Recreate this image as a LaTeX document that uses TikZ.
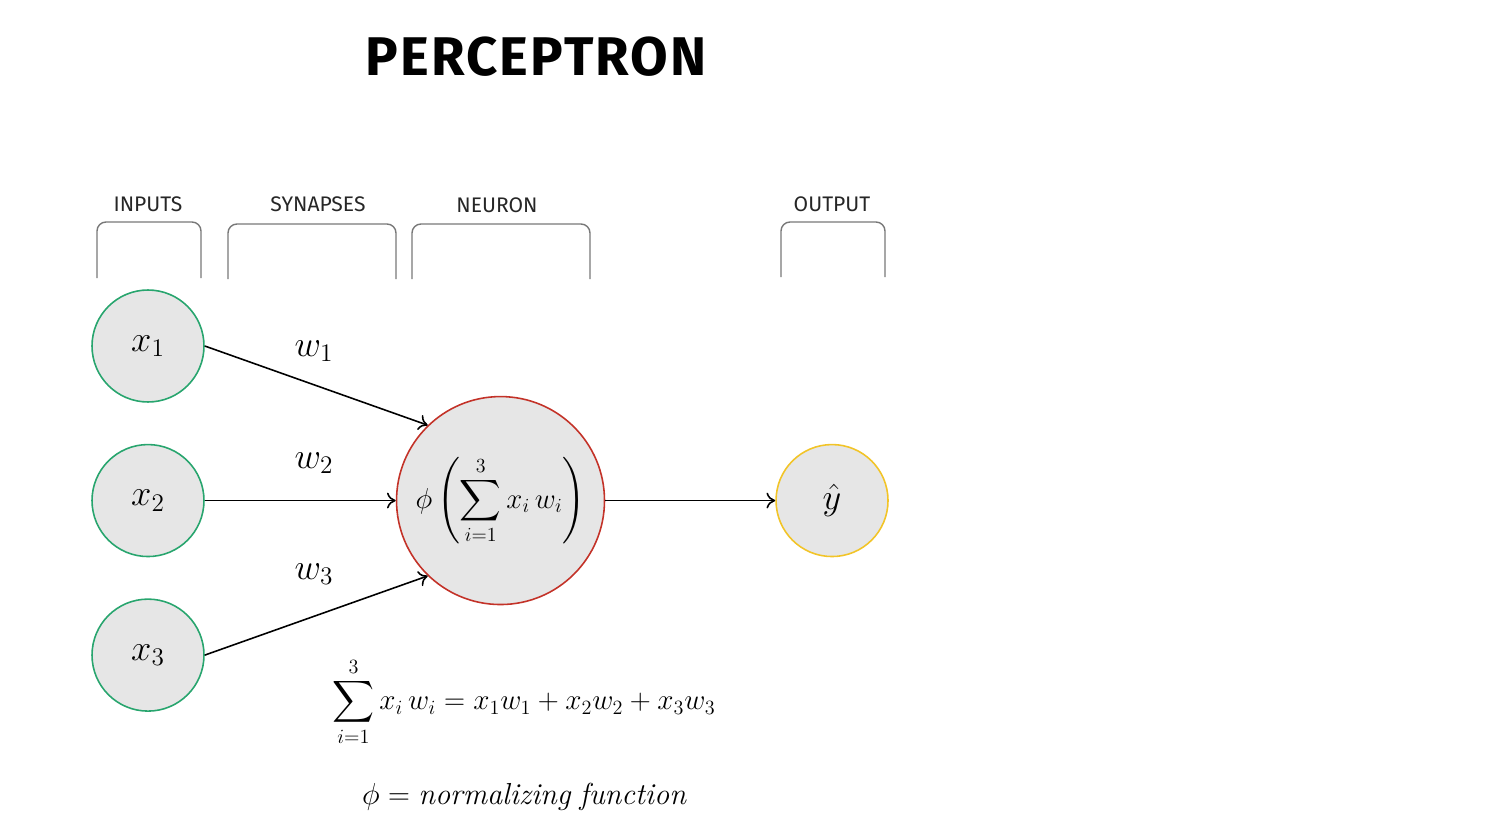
\documentclass[tikz,border=0pt]{standalone}
\usepackage{amsmath}
\usepackage{graphicx}
\usepackage{fontspec}
\usepackage{tikz}
\usetikzlibrary{arrows.meta, positioning}
\newfontfamily\titlefont[LetterSpace=4]{Fira Sans}
\newfontfamily\labelfont{Fira Sans}
\definecolor{percgray}{RGB}{230, 230, 230}
\definecolor{percgreen}{RGB}{40, 165, 110}
\definecolor{percred}{RGB}{195, 50, 40}
\definecolor{percyellow}{RGB}{242, 196, 40}
\definecolor{percbracket}{RGB}{120, 120, 120}

\begin{document}
\begin{tikzpicture}[
    x=0.02cm, y=-0.02cm,
    every node/.style={font=\fontsize{21}{25}\selectfont},
    innode/.style={circle, minimum size=2.24cm, inner sep=0pt, fill=percgray, draw=percgreen, line width=0.9pt},
    neuronnode/.style={circle, minimum size=4.16cm, inner sep=0pt, fill=percgray, draw=percred, line width=0.9pt},
    outnode/.style={circle, minimum size=2.24cm, inner sep=0pt, fill=percgray, draw=percyellow, line width=0.9pt},
    grouplabel/.style={font=\labelfont\fontsize{12}{14}\selectfont, text=black!85},
    bracket/.style={draw=percbracket, line width=0.8pt, rounded corners=0.18cm},
    arrow/.style={-{To[length=5pt,width=9pt]}, line width=0.9pt},
    formula/.style={font=\fontsize{17.28}{21}\selectfont}
]
\useasboundingbox (0,0) rectangle (1497,838);

% title
\node[font=\titlefont\bfseries\fontsize{31}{36}\selectfont] (title) at (536,57) {PERCEPTRON};

% group labels and brackets
\node[grouplabel] (lblinputs) at (148,204) {INPUTS};
\node[grouplabel] (lblsynapses) at (318,204) {SYNAPSES};
\node[grouplabel] (lblneuron) at (497,205) {NEURON};
\node[grouplabel] (lbloutput) at (832,204) {OUTPUT};

\draw[bracket] (97,278) -- (97,222) -- (201,222) -- (201,278);
\draw[bracket] (228,279) -- (228,224) -- (396,224) -- (396,279);
\draw[bracket] (412,279) -- (412,224) -- (590,224) -- (590,279);
\draw[bracket] (781,277) -- (781,222) -- (885,222) -- (885,277);

% inputs
\node[innode] (x1) at (148,346) {$x_1$};
\node[innode, below=0.82cm of x1] (x2) {$x_2$};
\node[innode, below=0.82cm of x2] (x3) {$x_3$};

% neuron and output
\node[neuronnode, formula, right=3.82cm of x2] (neuron) {\scalebox{0.95}{$\displaystyle \phi\left(\sum_{i=1}^{3} x_i\,w_i\right)$}};
\node[outnode, right=3.4cm of neuron] (yhat) {$\hat{y}$};

% synapses
\draw[arrow] (x1.east) -- (neuron.134);
\draw[arrow] (x2.east) -- (neuron.west);
\draw[arrow] (x3.east) -- (neuron.226);
\draw[arrow] (neuron.east) -- (yhat.west);

\node (w1) at (314,351) {$w_1$};
\node (w2) at (314,463) {$w_2$};
\node (w3) at (314,574) {$w_3$};

% explanation
\node[formula] (sumdef) at (524,702) {\scalebox{0.96}{$\displaystyle \sum_{i=1}^{3} x_i\,w_i = x_1w_1 + x_2w_2 + x_3w_3$}};
\node[formula] (phidef) at (524,797) {$\phi = \mathit{normalizing\ function}$};

\end{tikzpicture}
\end{document}
